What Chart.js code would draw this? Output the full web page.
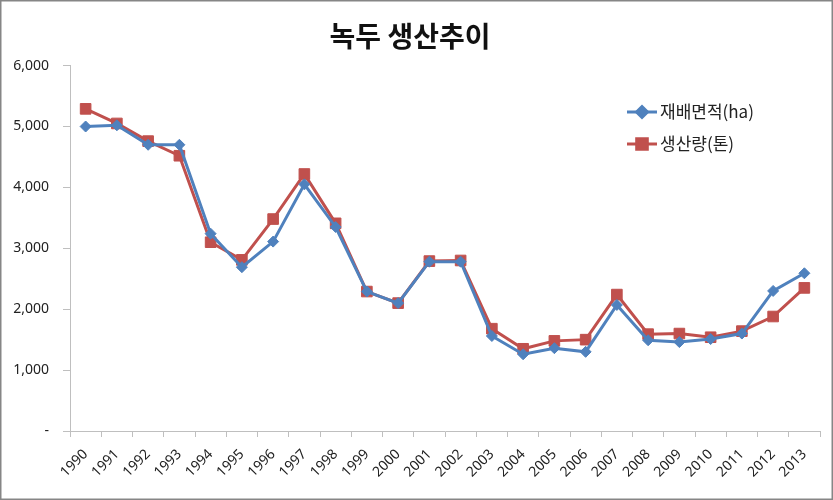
<!DOCTYPE html>
<html>
<head>
<meta charset="utf-8">
<script src="https://cdn.jsdelivr.net/npm/chart.js@4/dist/chart.umd.min.js"></script>
<style>
html,body{margin:0;padding:0;background:#fff;}
#wrap{width:833px;height:500px;position:relative;}
</style>
</head>
<body>
<div id="wrap"><canvas id="c" width="833" height="500"></canvas></div>
<script>
const titleText = '녹두 생산추이';
const years = ['1990','1991','1992','1993','1994','1995','1996','1997','1998','1999','2000','2001','2002','2003','2004','2005','2006','2007','2008','2009','2010','2011','2012','2013'];
const areaLabel = '재배면적(ha)';
const areaValues = [5000,5020,4700,4700,3240,2690,3110,4050,3350,2290,2100,2780,2780,1560,1260,1360,1300,2070,1490,1460,1510,1600,2300,2590];
const prodLabel = '생산량(톤)';
const prodValues = [5290,5050,4760,4520,3100,2810,3480,4220,3410,2290,2100,2790,2800,1680,1350,1480,1500,2240,1590,1600,1540,1640,1880,2350];
const yTicks = [0,1000,2000,3000,4000,5000,6000];

const BLUE = '#4F81BD';
const RED = '#C0504D';
const AXIS = '#BFBFBF';

const borderPlugin = {
  id: 'outerBorder',
  afterDraw(chart) {
    const ctx = chart.ctx;
    ctx.save();
    ctx.strokeStyle = '#868686';
    ctx.lineWidth = 1.5;
    ctx.strokeRect(0.75, 0.75, chart.width - 1.5, chart.height - 1.5);
    ctx.restore();
  }
};

const legendPlugin = {
  id: 'insideLegend',
  afterDraw(chart) {
    const ctx = chart.ctx;
    const items = chart.data.datasets;
    const x0 = 627, x1 = 657, ys = [112, 144];
    ctx.save();
    items.forEach((ds, i) => {
      const y = ys[i];
      ctx.strokeStyle = ds.borderColor;
      ctx.lineWidth = 3;
      ctx.beginPath();
      ctx.moveTo(x0, y);
      ctx.lineTo(x1, y);
      ctx.stroke();
      ctx.fillStyle = ds.pointBackgroundColor;
      ctx.strokeStyle = ds.pointBorderColor;
      Chart.helpers.drawPoint(ctx, {
        pointStyle: ds.pointStyle,
        radius: ds.pointRadius,
        borderWidth: 1,
        rotation: 0
      }, (x0 + x1) / 2, y);
      ctx.fillStyle = '#222';
      ctx.font = '17px "Noto Sans CJK KR", "Noto Sans", sans-serif';
      ctx.textBaseline = 'middle';
      ctx.textAlign = 'left';
      ctx.fillText(ds.label, x1 + 3, y);
    });
    ctx.restore();
  }
};

new Chart(document.getElementById('c'), {
  type: 'line',
  data: {
    labels: years,
    datasets: [
      {
        label: areaLabel,
        data: areaValues,
        borderColor: BLUE,
        backgroundColor: BLUE,
        pointBackgroundColor: BLUE,
        pointBorderColor: BLUE,
        borderWidth: 3,
        pointStyle: 'rectRot',
        pointRadius: 5.5,
        pointBorderWidth: 1,
        tension: 0,
        fill: false
      },
      {
        label: prodLabel,
        data: prodValues,
        borderColor: RED,
        backgroundColor: RED,
        pointBackgroundColor: RED,
        pointBorderColor: RED,
        borderWidth: 3,
        pointStyle: 'rect',
        pointRadius: 7.5,
        pointBorderWidth: 1,
        tension: 0,
        fill: false
      }
    ]
  },
  options: {
    responsive: false,
    animation: false,
    devicePixelRatio: 1,
    layout: { padding: { left: 0, right: 13, top: 0, bottom: 0 } },
    plugins: {
      legend: { display: false },
      tooltip: { enabled: false },
      title: {
        display: true,
        text: titleText,
        color: '#111',
        font: { family: '"Noto Sans CJK KR", sans-serif', size: 28, weight: 'bold', lineHeight: 1.2 },
        padding: { top: 20, bottom: 12 }
      }
    },
    scales: {
      x: {
        type: 'category',
        offset: true,
        border: { display: true, color: AXIS, width: 1 },
        grid: { display: true, drawOnChartArea: false, drawTicks: true, tickLength: 6, color: AXIS, offset: true },
        ticks: {
          color: '#222',
          font: { family: '"Noto Sans", sans-serif', size: 14 },
          minRotation: 45,
          maxRotation: 45,
          autoSkip: false,
          padding: 9
        },
        afterFit(scale) { scale.height = 69; }
      },
      y: {
        min: 0,
        max: 6000,
        border: { display: true, color: AXIS, width: 1 },
        grid: { display: true, drawOnChartArea: false, drawTicks: true, tickLength: 7, color: AXIS },
        afterBuildTicks(scale) { scale.ticks = yTicks.map(v => ({ value: v })); },
        ticks: {
          color: '#222',
          font: { family: '"Noto Sans", sans-serif', size: 14 },
          padding: 14,
          callback(v) { return v === 0 ? '-' : Number(v).toLocaleString('en-US'); }
        },
        afterFit(scale) { scale.width = 70; }
      }
    }
  },
  plugins: [legendPlugin, borderPlugin]
});
</script>
</body>
</html>
